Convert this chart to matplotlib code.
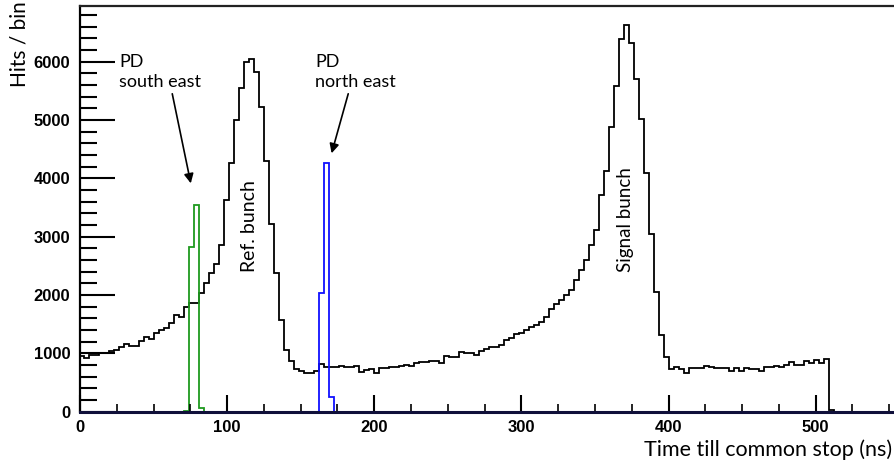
import numpy as np
import matplotlib.pyplot as plt
from matplotlib.ticker import MultipleLocator

# hits per 3.4 ns bin
black_hits = [955, 915, 972, 972, 1012, 1012, 1040, 1057, 1114, 1154,
              1126, 1126, 1217, 1275, 1251, 1354, 1400, 1429, 1515, 1657,
              1628, 1800, 1869, 1869, 2040, 2205, 2378, 2528, 2850, 3629,
              4258, 5000, 5543, 6000, 6040, 5830, 5222, 4305, 3215, 2380,
              1571, 1057, 865, 726, 692, 672, 657, 690, 811, 771,
              760, 760, 783, 771, 771, 789, 686, 714, 726, 669,
              743, 743, 760, 771, 783, 800, 783, 829, 857, 857,
              869, 869, 835, 954, 943, 943, 1029, 1000, 1010, 972,
              1040, 1069, 1103, 1103, 1143, 1229, 1257, 1326, 1343, 1400,
              1446, 1486, 1543, 1629, 1754, 1840, 1914, 2000, 2086, 2257,
              2429, 2600, 2857, 3120, 3720, 4130, 4886, 5590, 6390, 6628,
              6314, 5700, 5010, 4090, 3045, 2057, 1314, 935, 735, 771,
              726, 657, 754, 754, 754, 783, 760, 743, 743, 743,
              703, 743, 703, 754, 737, 726, 703, 771, 771, 783,
              771, 800, 857, 800, 800, 869, 829, 886, 840, 903,
              29]
green_first_bin = 21
green_hits = [10, 2829, 3550, 69]
blue_first_bin = 48
blue_hits = [2029, 4258, 257]

bin_width = 3.4
t0 = -0.7

edges = t0 + bin_width * np.arange(len(black_hits) + 1)
g_edges = t0 + bin_width * np.arange(green_first_bin, green_first_bin + len(green_hits) + 1)
b_edges = t0 + bin_width * np.arange(blue_first_bin, blue_first_bin + len(blue_hits) + 1)

W, H = 895, 463
fig = plt.figure(figsize=(W / 100, H / 100), dpi=100)
ax = fig.add_axes([80 / W, 1 - 411.7 / H, 1 - 80 / W, (411.7 - 5.7) / H])

ax.stairs(black_hits, edges, color='black', lw=1.3)
ax.stairs(green_hits, g_edges, color='#1f9a1f', lw=1.3)
ax.stairs(blue_hits, b_edges, color='#1010ff', lw=1.3)

ax.set_xlim(0, 553.9)
ax.set_ylim(0, 6960)

ax.spines['right'].set_visible(False)
ax.spines['left'].set_linewidth(1.6)
ax.spines['top'].set_linewidth(1.6)
ax.spines['top'].set_color('#222222')
ax.spines['bottom'].set_linewidth(2.2)
ax.spines['bottom'].set_color('#10103a')

ax.xaxis.set_major_locator(MultipleLocator(100))
ax.xaxis.set_minor_locator(MultipleLocator(25))
ax.yaxis.set_major_locator(MultipleLocator(1000))
ax.yaxis.set_minor_locator(MultipleLocator(200))
ax.tick_params(axis='y', which='major', direction='in', length=25, width=1.5, pad=7)
ax.tick_params(axis='y', which='minor', direction='in', length=12, width=1.5)
ax.tick_params(axis='x', which='major', direction='in', length=12, width=1.5, pad=6)
ax.tick_params(axis='x', which='minor', direction='in', length=6, width=1.2)
for lab in ax.get_xticklabels() + ax.get_yticklabels():
    lab.set_fontfamily('Liberation Sans')
    lab.set_fontweight('bold')
    lab.set_fontsize(12)

# axis titles, placed in pixels like the ROOT canvas
fig.text(892 / W, 1 - 456 / H, 'Time till common stop (ns)', family='Lato',
         fontsize=15.5, ha='right', va='baseline')
fig.text(20 / W, 1 - 1 / H, 'Hits / bin', family='Lato', fontsize=15,
         rotation=90, ha='center', va='top')

ax.text(26.5, 5510, 'PD\nsouth east', family='Lato', fontsize=13,
        ha='left', va='bottom', linespacing=1.35)
ax.text(160, 5510, 'PD\nnorth east', family='Lato', fontsize=13,
        ha='left', va='bottom', linespacing=1.35)
ax.annotate('', xy=(75.3, 3915), xytext=(62.7, 5450),
            arrowprops=dict(arrowstyle='-|>', color='black', lw=1.2,
                            mutation_scale=14, shrinkA=0, shrinkB=0))
ax.annotate('', xy=(171, 4430), xytext=(182.3, 5450),
            arrowprops=dict(arrowstyle='-|>', color='black', lw=1.2,
                            mutation_scale=14, shrinkA=0, shrinkB=0))

ax.text(115.5, 2400, 'Ref. bunch', family='Lato', fontsize=14,
        rotation=90, ha='center', va='bottom')
ax.text(370.5, 2400, 'Signal bunch', family='Lato', fontsize=13.5,
        rotation=90, ha='center', va='bottom')

fig.savefig('out.png', dpi=100)
